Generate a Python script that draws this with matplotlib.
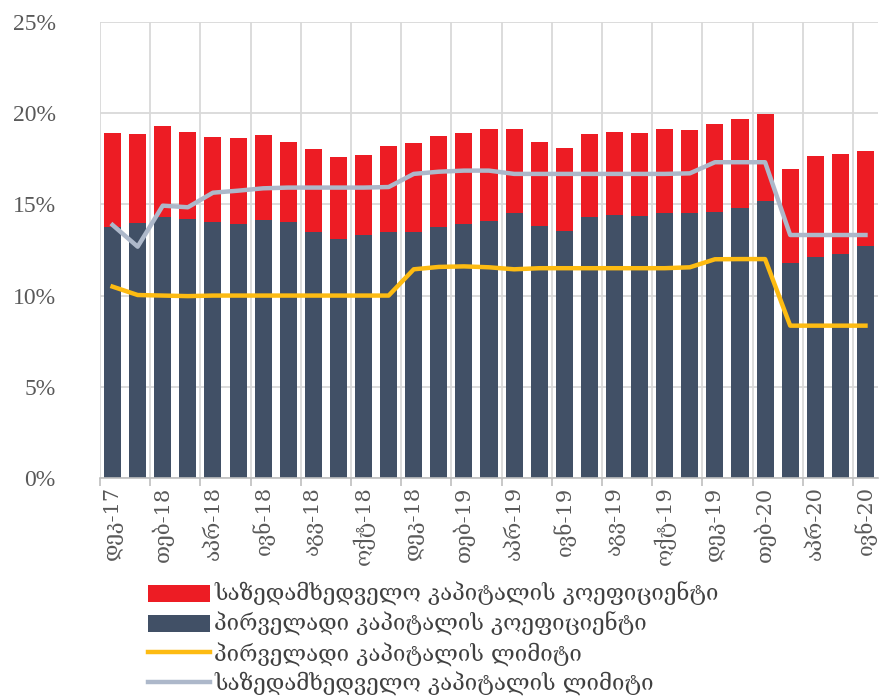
import matplotlib
matplotlib.use("Agg")
import matplotlib.pyplot as plt
import numpy as np

plt.rcParams['font.family'] = ['DejaVu Serif', 'DejaVu Sans']

# თვეები (დეკ-17 ... ივნ-20)
tick_labels = ['დეკ-17', 'თებ-18', 'აპრ-18', 'ივნ-18', 'აგვ-18', 'ოქტ-18',
               'დეკ-18', 'თებ-19', 'აპრ-19', 'ივნ-19', 'აგვ-19', 'ოქტ-19',
               'დეკ-19', 'თებ-20', 'აპრ-20', 'ივნ-20']

# საზედამხედველო კაპიტალის კოეფიციენტი (ბარის სრული სიმაღლე, %)
total_ratio = [18.9, 18.86, 19.28, 18.95, 18.71, 18.64, 18.79, 18.44, 18.04, 17.58,
               17.73, 18.18, 18.35, 18.73, 18.93, 19.11, 19.11, 18.44, 18.11, 18.88,
               18.97, 18.93, 19.13, 19.08, 19.39, 19.68, 19.94, 16.92, 17.65, 17.74, 17.9]

# პირველადი კაპიტალის კოეფიციენტი (%)
tier1_ratio = [13.78, 13.96, 14.33, 14.2, 14.02, 13.93, 14.14, 14.02, 13.49, 13.1,
               13.3, 13.49, 13.49, 13.76, 13.93, 14.07, 14.51, 13.82, 13.56, 14.29,
               14.42, 14.38, 14.55, 14.55, 14.57, 14.78, 15.17, 11.81, 12.13, 12.28, 12.74]

# პირველადი კაპიტალის ლიმიტი (%)
tier1_limit = [10.49, 10.03, 10.0, 9.97, 10.0, 10.0, 10.0, 10.0, 10.0, 10.0,
               10.0, 10.0, 11.44, 11.57, 11.6, 11.55, 11.44, 11.5, 11.5, 11.5,
               11.5, 11.5, 11.5, 11.55, 11.99, 12.0, 12.0, 8.35, 8.35, 8.35, 8.35]

# საზედამხედველო კაპიტალის ლიმიტი (%)
total_limit = [13.87, 12.68, 14.93, 14.84, 15.64, 15.75, 15.88, 15.92, 15.92, 15.92,
               15.92, 15.95, 16.67, 16.79, 16.85, 16.85, 16.67, 16.67, 16.67, 16.67,
               16.67, 16.67, 16.67, 16.7, 17.31, 17.31, 17.31, 13.32, 13.32, 13.32, 13.32]

red = '#ED1C24'
navy = '#415066'
yellow = '#FDBB12'
grey_line = '#ADB8CA'
text_col = '#595959'

x = np.arange(len(total_ratio))
supplement = np.array(total_ratio) - np.array(tier1_ratio)

fig = plt.figure(figsize=(8.82, 6.99), dpi=100)
ax = fig.add_axes([0.1134, 0.3162, 0.8821, 0.6524])

b_tier1 = ax.bar(x, tier1_ratio, width=0.68, color=navy, zorder=3)
b_total = ax.bar(x, supplement, bottom=tier1_ratio, width=0.68, color=red, zorder=3)
l_tier1, = ax.plot(x, tier1_limit, color=yellow, lw=3.2, zorder=4, solid_joinstyle='round')
l_total, = ax.plot(x, total_limit, color=grey_line, lw=3.2, zorder=4, solid_joinstyle='round')

ax.set_xlim(-0.5, len(x) - 0.5)
ax.set_ylim(0, 25)

# y ღერძი
ax.set_yticks(np.arange(0, 26, 5))
ax.set_yticklabels([f'{v}%' for v in range(0, 26, 5)], fontsize=17,
                   color=text_col, family=['Liberation Serif', 'DejaVu Serif'])
ax.tick_params(axis='y', length=0, pad=32)

# x ღერძი: ხაზები ყოველ მეორე კატეგორიაზე, წარწერები ბარების ცენტრში
ax.set_xticks(np.arange(-0.5, len(x) - 1, 2))
ax.set_xticklabels([])
ax.set_xticks(np.arange(0, len(x), 2), minor=True)
ax.set_xticklabels(tick_labels, minor=True, rotation=90, fontsize=15, color=text_col)
ax.tick_params(axis='x', which='major', length=6, color='#BFBFBF', width=1.2)
ax.tick_params(axis='x', which='minor', length=0, pad=6)

ax.grid(True, which='major', color='#D9D9D9', lw=1.3, zorder=0)
for s in ['top', 'right', 'left']:
    ax.spines[s].set_visible(False)
ax.spines['bottom'].set_color('#BFBFBF')
ax.spines['bottom'].set_linewidth(1.2)
ax.spines['bottom'].set_zorder(5)

fig.legend([b_total, b_tier1, l_tier1, l_total],
           ['საზედამხედველო კაპიტალის კოეფიციენტი',
            'პირველადი კაპიტალის კოეფიციენტი',
            'პირველადი კაპიტალის ლიმიტი',
            'საზედამხედველო კაპიტალის ლიმიტი'],
           loc='upper left', bbox_to_anchor=(0.155, 0.183), frameon=False,
           fontsize=16, handlelength=2.8, handleheight=0.8, handletextpad=0.2,
           labelspacing=0.25, borderpad=0, labelcolor='#404040')

fig.savefig('out.png', dpi=100)
